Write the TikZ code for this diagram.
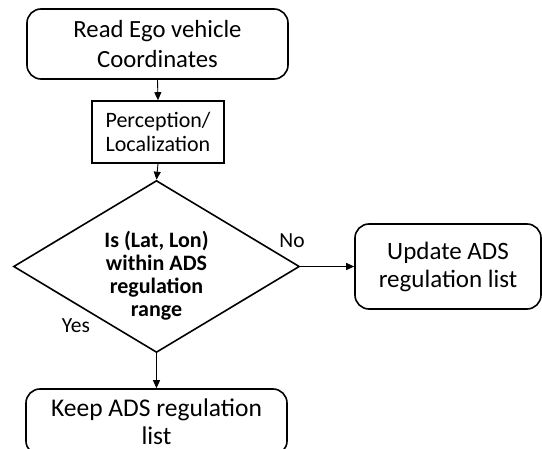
\documentclass[tikz,border=0pt]{standalone}
\usepackage{fontspec}
\setmainfont{Carlito}
\usetikzlibrary{arrows.meta,shapes.geometric}

\tikzset{
  roundbox/.style={draw, line width=1.6pt, rounded corners=14pt, align=center, inner sep=0pt},
  plainbox/.style={draw, line width=1.6pt, align=center, inner sep=0pt},
  decision/.style={draw, line width=1.6pt, diamond, inner sep=0pt},
  flow/.style={line width=0.9pt, -{Triangle[length=8pt,width=7pt]}},
  tag/.style={font=\fontsize{21.5}{24}\selectfont, inner sep=0pt}
}

\begin{document}
\begin{tikzpicture}[x=1pt,y=-1pt]
  \useasboundingbox (0,0) rectangle (542,449);

  % process boxes
  \node[roundbox, minimum width=261pt, minimum height=70pt,
        font=\fontsize{24.7}{30}\selectfont] (read) at (157.5,44)
        {Read Ego vehicle\\Coordinates};
  \node[plainbox, minimum width=132pt, minimum height=62pt,
        font=\fontsize{22}{24}\selectfont] (perc) at (158,132)
        {Perception/\\Localization};

  % decision
  \node[decision, minimum width=286pt, minimum height=172pt] (dec) at (156.5,266.5) {};
  \node[align=center, font=\bfseries\fontsize{22}{23}\selectfont, inner sep=0pt]
        (dectext) at (156.5,276) {Is (Lat, Lon)\\within ADS\\regulation\\range};

  % outcomes
  \node[roundbox, minimum width=186pt, minimum height=85pt,
        font=\fontsize{25}{28}\selectfont] (upd) at (448,266.5)
        {Update ADS\\regulation list};
  \node[roundbox, minimum width=261pt, minimum height=66pt,
        font=\fontsize{25.5}{28}\selectfont] (keep) at (156.5,422)
        {Keep ADS regulation\\list};

  % connectors
  \draw[flow] (read.south) -- (perc.north);
  \draw[flow] (perc.south) -- (dec.north);
  \draw[flow] (dec.east) -- (upd.west);
  \draw[flow] (dec.south) -- (keep.north);

  % branch labels
  \node[tag] (no) at (292,241) {No};
  \node[tag] (yes) at (76,326) {Yes};
\end{tikzpicture}
\end{document}
